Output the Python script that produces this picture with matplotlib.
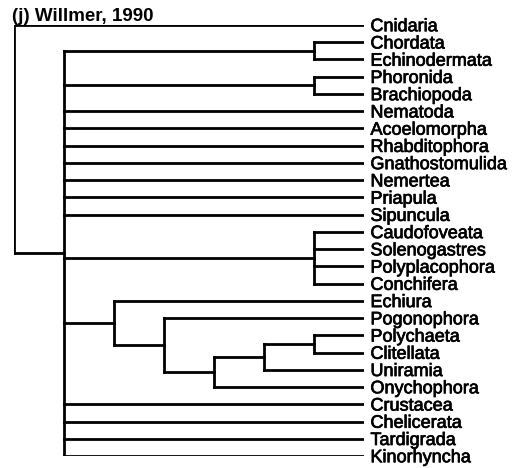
import matplotlib.pyplot as plt
import matplotlib.patheffects as pe

plt.rcParams['font.family'] = ['Liberation Sans', 'DejaVu Sans']

title = "(j) Willmer, 1990"

# leaf order top to bottom
taxa = ["Cnidaria", "Chordata", "Echinodermata", "Phoronida", "Brachiopoda",
        "Nematoda", "Acoelomorpha", "Rhabditophora", "Gnathostomulida",
        "Nemertea", "Priapula", "Sipuncula", "Caudofoveata", "Solenogastres",
        "Polyplacophora", "Conchifera", "Echiura", "Pogonophora", "Polychaeta",
        "Clitellata", "Uniramia", "Onychophora", "Crustacea", "Chelicerata",
        "Tardigrada", "Kinorhyncha"]

# tree topology as nested tuples
annelid_arthropod = ("Echiura",
                     ("Pogonophora",
                      ((("Polychaeta", "Clitellata"), "Uniramia"), "Onychophora")))
molluscs = ("Caudofoveata", "Solenogastres", "Polyplacophora", "Conchifera")
bilateria = (("Chordata", "Echinodermata"), ("Phoronida", "Brachiopoda"),
             "Nematoda", "Acoelomorpha", "Rhabditophora", "Gnathostomulida",
             "Nemertea", "Priapula", "Sipuncula", molluscs, annelid_arthropod,
             "Crustacea", "Chelicerata", "Tardigrada", "Kinorhyncha")
tree = ("Cnidaria", bilateria)

leaf_y = {name: i for i, name in enumerate(taxa)}


def height(node):
    if isinstance(node, str):
        return 0
    return 1 + max(height(c) for c in node)


H = height(tree)

fig = plt.figure(figsize=(5.22, 4.68), dpi=100)
ax = fig.add_axes([13.5 / 522, 1 - 456 / 468, 350 / 522, 431 / 468])
style = dict(color='black', lw=2.0, solid_capstyle='projecting')


def draw(node):
    if isinstance(node, str):
        return H, leaf_y[node]
    kids = [draw(c) for c in node]
    x = H - height(node)
    ys = [k[1] for k in kids]
    ax.plot([x, x], [min(ys), max(ys)], **style)
    for kx, ky in kids:
        ax.plot([x, kx], [ky, ky], **style)
    return x, (min(ys) + max(ys)) / 2


draw(tree)

# slightly heavier text, like the scanned original
heavy = [pe.withStroke(linewidth=0.5, foreground='black')]
for name in taxa:
    ax.annotate(name, (H, leaf_y[name]), xytext=(5, -4.5),
                textcoords='offset points', va='baseline', ha='left',
                fontsize=13, annotation_clip=False, path_effects=heavy)

ax.set_xlim(0, H)
ax.set_ylim(len(taxa) - 1, 0)
ax.axis('off')

fig.text(12 / 522, 1 - 21 / 468, title, fontsize=13.5, fontweight='bold',
         va='baseline', ha='left')

fig.savefig('out.png', dpi=100)
